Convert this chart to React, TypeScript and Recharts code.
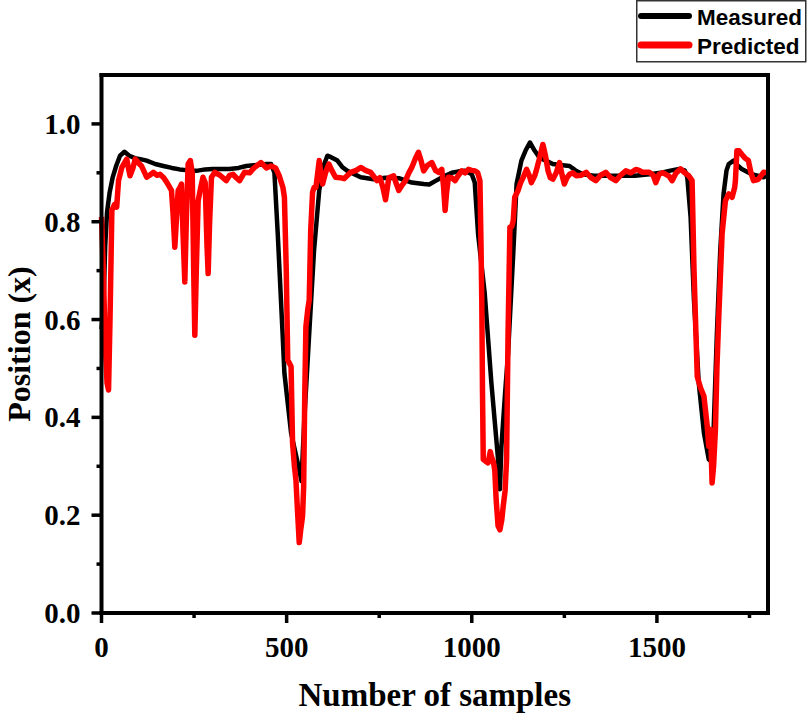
import React from 'react';
import { LineChart, Line, XAxis, YAxis, Legend } from 'recharts';

// Measured position (black)
const measuredSamples = [
  0, 5, 10, 15, 22, 30, 40, 50, 62, 75, 90, 105, 122, 145, 167, 190, 211, 235, 256, 280, 300, 345, 370, 391, 420, 445, 458,
  467, 476, 489, 494, 512, 534, 540, 548, 561, 574, 588, 600, 610, 620, 637, 650, 664, 700, 735, 767, 803, 838, 870, 885,
  901, 925, 946, 965, 982, 1000, 1008, 1017, 1035, 1053, 1071, 1076, 1080, 1090, 1098, 1112, 1121, 1134, 1145, 1157, 1170,
  1183, 1200, 1219, 1240, 1264, 1280, 1300, 1330, 1360, 1400, 1440, 1480, 1510, 1533, 1560, 1575, 1582, 1591, 1600, 1613,
  1627, 1640, 1646, 1652, 1662, 1671, 1680, 1688, 1694, 1707, 1718, 1729, 1756, 1788, 1800,
];
const measuredValues = [
  0.58, 0.62, 0.75, 0.82, 0.86, 0.89, 0.915, 0.935, 0.943, 0.935, 0.93, 0.928, 0.925, 0.918, 0.914, 0.91, 0.907, 0.905,
  0.904, 0.907, 0.908, 0.908, 0.91, 0.914, 0.916, 0.918, 0.918,
  0.9, 0.775, 0.572, 0.49, 0.368, 0.293, 0.27, 0.4, 0.572, 0.741, 0.864, 0.915, 0.935, 0.932, 0.925, 0.912, 0.904, 0.891,
  0.887, 0.89, 0.889, 0.88, 0.877, 0.876,
  0.883, 0.893, 0.9, 0.903, 0.904, 0.897, 0.88, 0.775, 0.653, 0.47, 0.314, 0.253, 0.34, 0.45, 0.531, 0.735, 0.877, 0.925,
  0.945, 0.962, 0.945,
  0.931, 0.925, 0.918, 0.916, 0.914, 0.905, 0.897, 0.894, 0.894, 0.894, 0.894, 0.897, 0.9, 0.904, 0.908, 0.905, 0.891,
  0.809, 0.64, 0.47,
  0.368, 0.314, 0.31, 0.35, 0.572, 0.741, 0.857, 0.905, 0.918, 0.925, 0.915, 0.908, 0.897, 0.891, 0.895,
];

// Predicted position (red)
const predictedSamples = [
  0, 5, 10, 15, 19, 23, 28, 35, 41, 46, 55, 68, 77, 85, 91, 100, 108, 122, 130, 140, 150, 158, 168, 176, 189, 193, 198,
  202, 207, 212, 216, 220, 225, 229, 234, 240, 245, 249, 252, 256, 261, 268, 274, 280, 285, 288, 292, 297, 306, 320, 337,
  346, 355, 364, 373, 386, 400, 412, 431, 445, 458, 470, 480, 490, 494, 499, 503, 512, 516, 521, 525, 530, 534, 538, 543,
  546, 549, 552, 557, 561, 565, 570, 574, 579, 584, 588, 592, 597, 605, 614, 622, 632, 645, 655, 673, 688, 700, 713, 727,
  738, 744, 752, 760, 767, 772, 776, 789, 796, 803, 812, 821, 830, 838, 848, 856, 863, 870, 880, 892, 902, 910, 919, 924,
  928, 932, 937, 946, 955, 964, 973, 982, 991, 1000, 1009, 1016, 1022, 1025, 1027, 1029, 1031, 1038, 1044, 1050, 1053,
  1058, 1062, 1066, 1071, 1076, 1081, 1085, 1090, 1094, 1098, 1103, 1108, 1112, 1116, 1125, 1132, 1139, 1148, 1155, 1161,
  1170, 1174, 1183, 1192, 1199, 1206, 1212, 1219, 1228, 1237, 1244, 1250, 1257, 1264, 1273, 1282, 1295, 1309, 1322, 1335,
  1348, 1362, 1375, 1389, 1402, 1416, 1430, 1443, 1452, 1461, 1479, 1490, 1497, 1506, 1515, 1524, 1533, 1541, 1552, 1564,
  1575, 1586, 1595, 1600, 1604, 1609, 1618, 1627, 1636, 1640, 1645, 1649, 1653, 1658, 1662, 1667, 1676, 1685, 1694, 1703,
  1710, 1712, 1716, 1722, 1729, 1738, 1747, 1754, 1761, 1767, 1774, 1788, 1800,
];
const predictedValues = [
  0.81, 0.7, 0.55, 0.47, 0.456, 0.6, 0.823, 0.835, 0.83, 0.884, 0.911, 0.928, 0.894, 0.91, 0.928, 0.92, 0.914, 0.891,
  0.895, 0.901, 0.895, 0.897, 0.89, 0.881, 0.864, 0.82, 0.748,
  0.8, 0.864, 0.87, 0.877, 0.78, 0.677, 0.8, 0.918, 0.925, 0.9, 0.7, 0.568, 0.7, 0.843, 0.87, 0.891, 0.88, 0.75, 0.694,
  0.8, 0.891, 0.901, 0.895, 0.884,
  0.895, 0.897, 0.89, 0.884, 0.901, 0.9, 0.91, 0.921, 0.91, 0.914, 0.91, 0.894, 0.87, 0.85, 0.7, 0.517, 0.504, 0.348, 0.3,
  0.273, 0.2, 0.144, 0.17, 0.198,
  0.26, 0.45, 0.585, 0.62, 0.64, 0.782, 0.86, 0.87, 0.87, 0.9, 0.925, 0.9, 0.877, 0.9, 0.918, 0.905, 0.891, 0.89, 0.888,
  0.901, 0.905, 0.911, 0.905, 0.901,
  0.89, 0.884, 0.89, 0.87, 0.845, 0.87, 0.89, 0.894, 0.878, 0.864, 0.875, 0.884, 0.9, 0.911, 0.93, 0.942, 0.925, 0.904,
  0.915, 0.921, 0.905, 0.901, 0.907, 0.87,
  0.823, 0.86, 0.891, 0.89, 0.884, 0.895, 0.904, 0.9, 0.907, 0.905, 0.904, 0.9, 0.884, 0.75, 0.64, 0.45, 0.314, 0.31,
  0.307, 0.33, 0.32,
  0.31, 0.293, 0.23, 0.178, 0.17, 0.19, 0.219, 0.25, 0.314, 0.572, 0.789, 0.79, 0.802, 0.85, 0.864, 0.88, 0.891, 0.907,
  0.895, 0.88,
  0.894, 0.904, 0.93, 0.958, 0.935, 0.904, 0.89, 0.887, 0.9, 0.921, 0.895, 0.877, 0.89, 0.897, 0.9, 0.894, 0.895, 0.901,
  0.89, 0.884,
  0.895, 0.901, 0.89, 0.884, 0.895, 0.904, 0.9, 0.907, 0.905, 0.901, 0.901, 0.895, 0.88, 0.897, 0.9, 0.897, 0.893, 0.884,
  0.9, 0.908,
  0.9, 0.894, 0.884, 0.707, 0.605, 0.483, 0.46, 0.443, 0.381, 0.341, 0.375, 0.266, 0.3, 0.375, 0.5, 0.605, 0.775, 0.843,
  0.857, 0.85,
  0.87, 0.884, 0.945, 0.945, 0.938, 0.93, 0.925, 0.9, 0.884, 0.885, 0.887, 0.901, 0.9,
];

const xTicks = [0, 250, 500, 750, 1000, 1250, 1500, 1750];
const yTicks = [0, 0.1, 0.2, 0.3, 0.4, 0.5, 0.6, 0.7, 0.8, 0.9, 1.0];

const measured = measuredSamples.map((x, i) => ({ x, v: measuredValues[i] }));
const predicted = predictedSamples.map((x, i) => ({ x, v: predictedValues[i] }));

const SERIF = '"Liberation Serif", "Times New Roman", serif';
const SANS = '"Liberation Sans", Arial, sans-serif';
const AXIS_W = 4;
const TICK_W = 3.5;

const isMajorX = (v: number) => v % 500 === 0;
const isMajorY = (v: number) => Math.round(v * 10) % 2 === 0;

const BottomTick = (props: any) => {
  const { x, y, payload } = props;
  const major = isMajorX(payload.value);
  return (
    <g>
      <line x1={x} x2={x} y1={y} y2={y + (major ? 10 : 5)} stroke="#000" strokeWidth={TICK_W} />
      {major && (
        <text x={x} y={y + 44} textAnchor="middle" fontFamily={SERIF} fontWeight="bold" fontSize={29} fill="#000">
          {payload.value}
        </text>
      )}
    </g>
  );
};

const TopTick = (props: any) => {
  const { x, y, payload } = props;
  const major = isMajorX(payload.value);
  return <line x1={x} x2={x} y1={y} y2={y - (major ? 10 : 5)} stroke="#000" strokeWidth={TICK_W} />;
};

const LeftTick = (props: any) => {
  const { x, y, payload } = props;
  const major = isMajorY(payload.value);
  return (
    <g>
      <line x1={x} x2={x - (major ? 10 : 5)} y1={y} y2={y} stroke="#000" strokeWidth={TICK_W} />
      {major && (
        <text x={x - 21} y={y + 10} textAnchor="end" fontFamily={SERIF} fontWeight="bold" fontSize={29} fill="#000">
          {Number(payload.value).toFixed(1)}
        </text>
      )}
    </g>
  );
};

const RightTick = (props: any) => {
  const { x, y, payload } = props;
  const major = isMajorY(payload.value);
  return <line x1={x} x2={x + (major ? 10 : 5)} y1={y} y2={y} stroke="#000" strokeWidth={TICK_W} />;
};

const XTitle = (props: any) => {
  const vb = props.viewBox || {};
  return (
    <text x={vb.x + vb.width / 2} y={706} textAnchor="middle" fontFamily={SERIF} fontWeight="bold" fontSize={33} fill="#000">
      Number of samples
    </text>
  );
};

const YTitle = (props: any) => {
  const vb = props.viewBox || {};
  const cy = vb.y + vb.height / 2;
  return (
    <text
      x={30}
      y={cy}
      transform={`rotate(-90, 30, ${cy})`}
      textAnchor="middle"
      fontFamily={SERIF}
      fontWeight="bold"
      fontSize={32}
      fill="#000"
    >
      Position (x)
    </text>
  );
};

const LegendBox = () => (
  <svg width={172} height={64} style={{ display: 'block' }}>
    <rect x={0.75} y={0.75} width={169} height={61} fill="#fff" stroke="#333" strokeWidth={1.5} />
    <line x1={5} x2={53} y1={16} y2={16} stroke="#000" strokeWidth={6} strokeLinecap="round" />
    <text x={61} y={25} fontFamily={SANS} fontWeight="bold" fontSize={22.5} fill="#000">
      Measured
    </text>
    <line x1={5} x2={53} y1={45} y2={45} stroke="#ff0000" strokeWidth={7} strokeLinecap="round" />
    <text x={61} y={54} fontFamily={SANS} fontWeight="bold" fontSize={22.5} fill="#000">
      Predicted
    </text>
  </svg>
);

const axisLineStyle = { stroke: '#000', strokeWidth: AXIS_W, strokeLinecap: 'square' as const };

export default function App() {
  return (
    <div style={{ position: 'absolute', left: 0, top: 0, width: 808, height: 719, background: '#fff' }}>
      <LineChart width={808} height={719} margin={{ top: 45, right: 30, bottom: 66, left: 41.5 }}>
        <XAxis
          xAxisId="bottom"
          type="number"
          dataKey="x"
          domain={[0, 1800]}
          ticks={xTicks}
          interval={0}
          height={40}
          tickSize={0}
          tickMargin={0}
          tickLine={false}
          stroke="#000"
          strokeWidth={AXIS_W}
          axisLine={axisLineStyle}
          tick={<BottomTick />}
          label={<XTitle />}
        />
        <XAxis
          xAxisId="top"
          orientation="top"
          type="number"
          dataKey="x"
          domain={[0, 1800]}
          ticks={xTicks}
          interval={0}
          height={30}
          tickSize={0}
          tickMargin={0}
          tickLine={false}
          stroke="#000"
          strokeWidth={AXIS_W}
          axisLine={axisLineStyle}
          tick={<TopTick />}
        />
        <YAxis
          yAxisId="left"
          type="number"
          domain={[0, 1.1]}
          ticks={yTicks}
          interval={0}
          width={60}
          tickSize={0}
          tickMargin={0}
          tickLine={false}
          stroke="#000"
          strokeWidth={AXIS_W}
          axisLine={axisLineStyle}
          tick={<LeftTick />}
          label={<YTitle />}
        />
        <YAxis
          yAxisId="right"
          orientation="right"
          type="number"
          domain={[0, 1.1]}
          ticks={yTicks}
          interval={0}
          width={10}
          tickSize={0}
          tickMargin={0}
          tickLine={false}
          stroke="#000"
          strokeWidth={AXIS_W}
          axisLine={axisLineStyle}
          tick={<RightTick />}
        />
        <Legend
          layout="horizontal"
          verticalAlign="middle"
          align="center"
          wrapperStyle={{ top: 0, left: 636, width: 172, height: 64 }}
          content={() => <LegendBox />}
        />
        <Line
          name="Measured"
          xAxisId="bottom"
          yAxisId="left"
          data={measured}
          dataKey="v"
          type="linear"
          stroke="#000000"
          strokeWidth={4.5}
          strokeLinejoin="round"
          dot={false}
          isAnimationActive={false}
        />
        <Line
          name="Predicted"
          xAxisId="bottom"
          yAxisId="left"
          data={predicted}
          dataKey="v"
          type="linear"
          stroke="#ff0000"
          strokeWidth={5.5}
          strokeLinejoin="round"
          dot={false}
          isAnimationActive={false}
        />
      </LineChart>
    </div>
  );
}
